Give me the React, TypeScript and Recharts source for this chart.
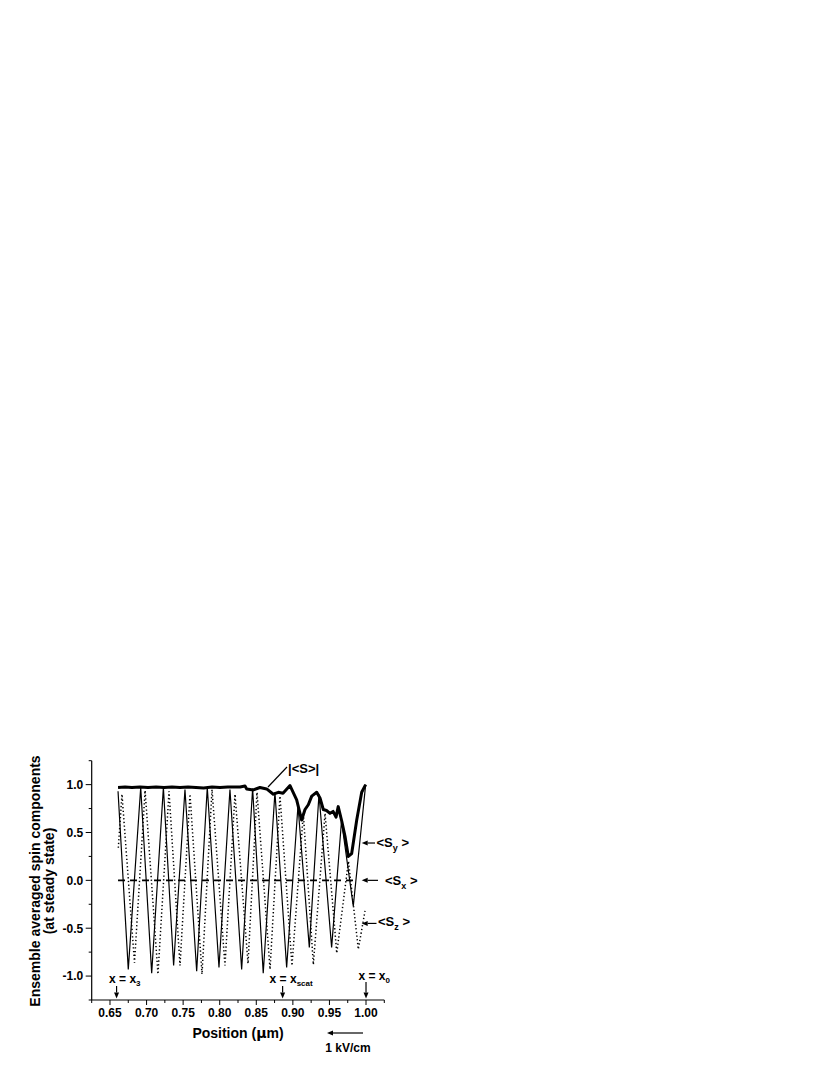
import React from 'react'
import { LineChart, Line, XAxis, YAxis } from 'recharts'

// ---- data ----
// <Sy> (solid thin line), extrema only: the original is sampled coarsely
const syX = [0.661, 0.675, 0.692, 0.707, 0.723, 0.737, 0.7525, 0.7685, 0.783, 0.799, 0.814, 0.83, 0.845, 0.8595, 0.8755, 0.8915, 0.907, 0.9225, 0.9357, 0.953, 0.9665, 0.9826, 0.9995]
const syY = [0.93, -0.93, 0.97, -0.97, 0.97, -0.89, 0.95, -0.95, 0.97, -0.91, 0.95, -0.93, 0.96, -0.97, 0.92, -0.91, 0.78, -0.7, 0.9, -0.7, 0.62, -0.27, 1.0]

// <Sz> (dotted line)
const szX = [0.6614, 0.6664, 0.6835, 0.698, 0.7156, 0.7307, 0.7457, 0.7594, 0.7758, 0.7895, 0.8072, 0.8209, 0.8387, 0.851, 0.8688, 0.8824, 0.8988, 0.9143, 0.928, 0.944, 0.96, 0.976, 0.9895, 0.9986]
const szY = [0.34, 0.9, -0.86, 0.94, -0.98, 0.93, -0.89, 0.9, -0.98, 0.95, -0.89, 0.9, -0.87, 0.92, -0.93, 0.88, -0.89, 0.7, -0.88, 0.7, -0.76, 0.2, -0.72, -0.32]

// <Sx> (dashed line)
const sxX = [0.661, 0.75, 0.85, 0.95, 0.986]
const sxY = [0, 0, 0, 0, 0]

// |<S>| (thick line)
const magX = [0.661, 0.6706, 0.68, 0.691, 0.702, 0.713, 0.7238, 0.7348, 0.7457, 0.7567, 0.7676, 0.778, 0.7895, 0.8004, 0.811, 0.8278, 0.8346, 0.8369, 0.846, 0.855, 0.8642, 0.8733, 0.8801, 0.8865, 0.8961, 0.9052, 0.912, 0.9166, 0.9211, 0.9258, 0.9326, 0.9371, 0.9416, 0.946, 0.9508, 0.955, 0.959, 0.962, 0.9668, 0.9713, 0.9758, 0.9804, 0.9873, 0.9941, 0.9995]
const magY = [0.97, 0.975, 0.97, 0.975, 0.97, 0.975, 0.97, 0.975, 0.97, 0.975, 0.97, 0.965, 0.975, 0.97, 0.975, 0.975, 0.985, 0.955, 0.945, 0.97, 0.955, 0.9, 0.92, 0.91, 0.99, 0.84, 0.63, 0.74, 0.79, 0.88, 0.92, 0.86, 0.74, 0.73, 0.7, 0.72, 0.66, 0.77, 0.62, 0.46, 0.25, 0.28, 0.63, 0.92, 1.0]

const xMajorTicks = [0.65, 0.7, 0.75, 0.8, 0.85, 0.9, 0.95, 1.0]
const xMinorTicks = [0.625, 0.675, 0.725, 0.775, 0.825, 0.875, 0.925, 0.975, 1.025]
const yMajorTicks = [-1, -0.5, 0, 0.5, 1]
const yMinorTicks = [-1.25, -0.75, -0.25, 0.25, 0.75, 1.25]

const markers = [
  { x: 0.659, sub: '3' },
  { x: 0.886, sub: 'scat' },
  { x: 1.0, sub: '0' },
]

// ---- layout ----
const W = 830
const H = 1075
const PLOT = { left: 91.7, top: 760.7, right: 384.3, bottom: 1000 }
const X_DOMAIN: [number, number] = [0.625, 1.025]
const Y_DOMAIN: [number, number] = [-1.25, 1.25]
const Y_AXIS_W = 60
const X_AXIS_H = 30
const FONT = '"Liberation Sans", Arial, Helvetica, sans-serif'

const zip = (xs: number[], ys: number[]) => xs.map((x, i) => ({ x, y: ys[i] }))
const syData = zip(syX, syY)
const szData = zip(szX, szY)
const sxData = zip(sxX, sxY)
const magData = zip(magX, magY)

const px = (v: number) => PLOT.left + ((v - X_DOMAIN[0]) / (X_DOMAIN[1] - X_DOMAIN[0])) * (PLOT.right - PLOT.left)
const py = (v: number) => PLOT.bottom - ((v - Y_DOMAIN[0]) / (Y_DOMAIN[1] - Y_DOMAIN[0])) * (PLOT.bottom - PLOT.top)

const isIn = (list: number[], v: number) => list.some(t => Math.abs(t - v) < 1e-6)

const boldText = { fontFamily: FONT, fontWeight: 700, fill: '#000' }

function XTick({ x, y, payload }: any) {
  const major = isIn(xMajorTicks, payload.value)
  return (
    <g>
      <line x1={x} x2={x} y1={y} y2={y + (major ? 5 : 3)} stroke="#000" strokeWidth={1} />
      {major && (
        <text x={x} y={y + 16.5} textAnchor="middle" fontSize={12} style={boldText}>
          {payload.value.toFixed(2)}
        </text>
      )}
    </g>
  )
}

function YTick({ x, y, payload }: any) {
  const major = isIn(yMajorTicks, payload.value)
  return (
    <g>
      <line x1={x} x2={x - (major ? 6 : 3)} y1={y} y2={y} stroke="#000" strokeWidth={1} />
      {major && (
        <text x={x - 8.5} y={y + 4.3} textAnchor="end" fontSize={12} style={boldText}>
          {payload.value.toFixed(1)}
        </text>
      )}
    </g>
  )
}

function Arrow({ x1, y1, x2, y2 }: { x1: number; y1: number; x2: number; y2: number }) {
  const a = Math.atan2(y2 - y1, x2 - x1)
  const len = 6
  const hw = 2.5
  const bx = x2 - len * Math.cos(a)
  const by = y2 - len * Math.sin(a)
  const pts = [
    [x2, y2],
    [bx + hw * Math.sin(a), by - hw * Math.cos(a)],
    [bx - hw * Math.sin(a), by + hw * Math.cos(a)],
  ]
  return (
    <g>
      <line x1={x1} y1={y1} x2={bx} y2={by} stroke="#000" strokeWidth={1.2} />
      <polygon points={pts.map(p => p.join(',')).join(' ')} fill="#000" />
    </g>
  )
}

function SpinLabel({ x, y, sub }: { x: number; y: number; sub: string }) {
  return (
    <text x={x} y={y} fontSize={13} style={boldText}>
      {'<S'}
      <tspan dy={4} fontSize={9}>{sub}</tspan>
      <tspan dy={-4}>{' >'}</tspan>
    </text>
  )
}

function Annotations() {
  return (
    <svg width={W} height={H} style={{ position: 'absolute', left: 0, top: 0, pointerEvents: 'none' }}>
      {/* y axis title */}
      <text transform={`translate(40, 881) rotate(-90)`} textAnchor="middle" fontSize={14} style={boldText}>
        Ensemble averaged spin components
      </text>
      <text transform={`translate(53.5, 881) rotate(-90)`} textAnchor="middle" fontSize={14} style={boldText}>
        (at steady state)
      </text>

      {/* x axis title */}
      <text x={(PLOT.left + PLOT.right) / 2} y={1038} textAnchor="middle" fontSize={14} style={boldText}>
        Position (<tspan fontFamily="DejaVu Sans">μ</tspan>m)
      </text>

      {/* field direction */}
      <Arrow x1={363} y1={1033} x2={327} y2={1033} />
      <text x={348} y={1052} textAnchor="middle" fontSize={12} style={boldText}>1 kV/cm</text>

      {/* |<S>| label */}
      <line x1={268} y1={787} x2={287} y2={767} stroke="#000" strokeWidth={1.2} />
      <text x={288} y={773} fontSize={13} style={boldText}>|&lt;S&gt;|</text>

      {/* component labels */}
      <Arrow x1={375} y1={py(0.39)} x2={361.7} y2={py(0.39)} />
      <SpinLabel x={376.5} y={847} sub="y" />
      <Arrow x1={378} y1={py(0)} x2={361.7} y2={py(0)} />
      <SpinLabel x={385} y={884.5} sub="x" />
      <Arrow x1={376.5} y1={py(-0.45)} x2={361.7} y2={py(-0.45)} />
      <SpinLabel x={378} y={926} sub="z" />

      {/* position markers */}
      {markers.map(m => {
        const cx = px(m.x)
        const top = m.sub === '0' ? 982 : 986
        const base = m.sub === '0' ? 979.5 : 983
        const tx = m.sub === 'scat' ? cx - 13 : cx - 7.5
        return (
          <g key={m.sub}>
            <Arrow x1={cx} y1={top} x2={cx} y2={998.5} />
            <text x={tx} y={base} fontSize={12} style={boldText}>
              {'x = x'}
              <tspan dy={3} fontSize={8}>{m.sub}</tspan>
            </text>
          </g>
        )
      })}
    </svg>
  )
}

export default function App() {
  return (
    <div style={{ position: 'absolute', left: 0, top: 0, width: W, height: H, background: '#fff' }}>
      <LineChart
        width={W}
        height={H}
        margin={{
          top: PLOT.top,
          right: W - PLOT.right,
          bottom: H - PLOT.bottom - X_AXIS_H,
          left: PLOT.left - Y_AXIS_W,
        }}
      >
        <XAxis
          type="number"
          dataKey="x"
          domain={X_DOMAIN}
          allowDataOverflow
          ticks={[...xMinorTicks, ...xMajorTicks].sort((a, b) => a - b)}
          interval={0}
          tickSize={0}
          tickMargin={0}
          tickLine={false}
          tick={<XTick />}
          height={X_AXIS_H}
          stroke="#000"
          axisLine={{ stroke: '#000', strokeWidth: 1.2 }}
        />
        <YAxis
          type="number"
          dataKey="y"
          domain={Y_DOMAIN}
          allowDataOverflow
          ticks={[...yMinorTicks, ...yMajorTicks].sort((a, b) => a - b)}
          interval={0}
          tickSize={0}
          tickMargin={0}
          tickLine={false}
          tick={<YTick />}
          width={Y_AXIS_W}
          axisLine={{ stroke: '#000', strokeWidth: 1.2 }}
        />
        <Line data={szData} dataKey="y" type="linear" stroke="#000" strokeWidth={1.5} strokeDasharray="1.3 2.4" dot={false} isAnimationActive={false} />
        <Line data={sxData} dataKey="y" type="linear" stroke="#000" strokeWidth={1.6} strokeDasharray="7 5" dot={false} isAnimationActive={false} />
        <Line data={syData} dataKey="y" type="linear" stroke="#000" strokeWidth={1.2} dot={false} isAnimationActive={false} />
        <Line data={magData} dataKey="y" type="linear" stroke="#000" strokeWidth={3} strokeLinejoin="round" dot={false} isAnimationActive={false} />
      </LineChart>
      <Annotations />
    </div>
  )
}
